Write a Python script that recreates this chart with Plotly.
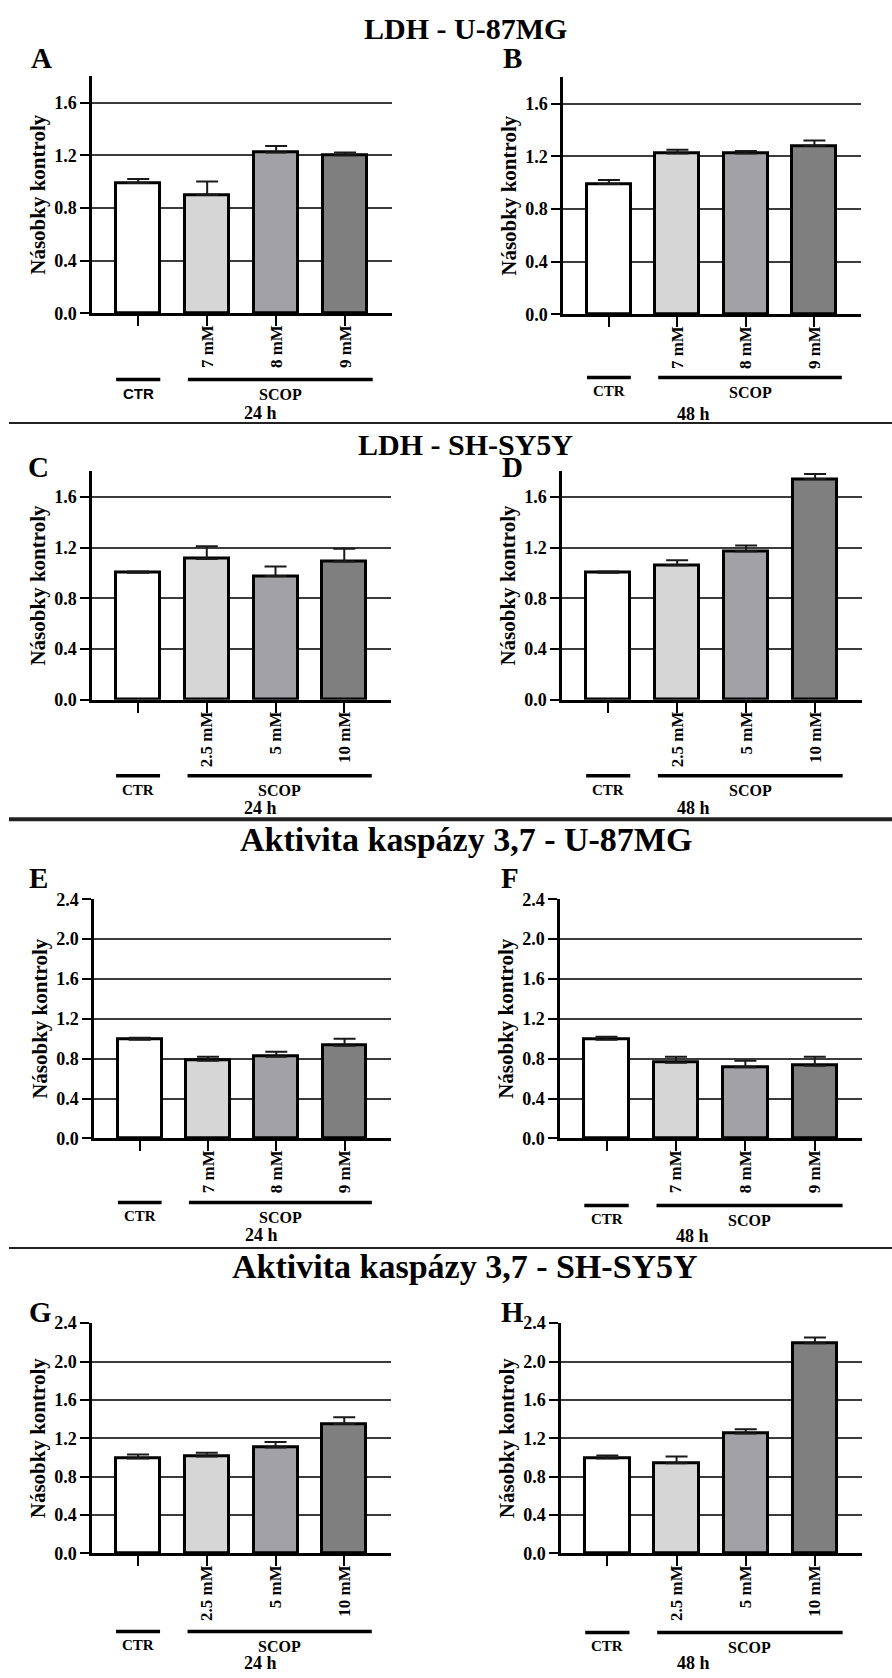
import plotly.graph_objects as go

W, H = 892, 1678

# ---------------- data ----------------
positions = [0, 1, 2, 3]
u87_doses = ["", "7 mM", "8 mM", "9 mM"]
sh_doses = ["", "2.5 mM", "5 mM", "10 mM"]
bar_fills = ["#ffffff", "#d6d6d6", "#a2a2a6", "#7f7f7f"]

ldh_u87_24h = [0.99, 0.90, 1.22, 1.20]
ldh_u87_24h_sem = [0.03, 0.10, 0.05, 0.02]
ldh_u87_48h = [0.99, 1.22, 1.22, 1.28]
ldh_u87_48h_sem = [0.03, 0.03, 0.02, 0.04]
ldh_sh_24h = [1.00, 1.11, 0.975, 1.09]
ldh_sh_24h_sem = [0.01, 0.10, 0.075, 0.10]
ldh_sh_48h = [1.00, 1.06, 1.17, 1.74]
ldh_sh_48h_sem = [0.01, 0.04, 0.045, 0.04]
casp_u87_24h = [0.99, 0.78, 0.82, 0.93]
casp_u87_24h_sem = [0.02, 0.04, 0.05, 0.07]
casp_u87_48h = [0.99, 0.76, 0.715, 0.73]
casp_u87_48h_sem = [0.03, 0.06, 0.065, 0.09]
casp_sh_24h = [0.99, 1.01, 1.105, 1.35]
casp_sh_24h_sem = [0.04, 0.04, 0.055, 0.07]
casp_sh_48h = [0.99, 0.94, 1.25, 2.19]
casp_sh_48h_sem = [0.03, 0.07, 0.045, 0.06]

ldh_ticks = [0.0, 0.4, 0.8, 1.2, 1.6]
casp_ticks = [0.0, 0.4, 0.8, 1.2, 1.6, 2.0, 2.4]

section_titles = ["LDH - U-87MG", "LDH - SH-SY5Y",
                  "Aktivita kaspázy 3,7 - U-87MG", "Aktivita kaspázy 3,7 - SH-SY5Y"]
y_title = "Násobky kontroly"
group_ctr = "CTR"
group_scop = "SCOP"

# ---------------- layout constants ----------------
SERIF = "Liberation Serif"

panels = [
    dict(letter="A", labels=u87_doses, mean=ldh_u87_24h, sem=ldh_u87_24h_sem, time="24 h", ymax=1.8,
         ticks=ldh_ticks, box=(92, 392, 67, 307), letter_xy=(41, 49), br=67, time_y=408,
         ctr_font="Liberation Sans"),
    dict(letter="B", labels=u87_doses, mean=ldh_u87_48h, sem=ldh_u87_48h_sem, time="48 h", ymax=1.8,
         ticks=ldh_ticks, box=(563, 861, 68, 308), letter_xy=(512, 49), br=64, time_y=409, ctr_font=SERIF),
    dict(letter="C", labels=sh_doses, mean=ldh_sh_24h, sem=ldh_sh_24h_sem, time="24 h", ymax=1.8,
         ticks=ldh_ticks, box=(92, 391, 467, 698), letter_xy=(38, 463), br=77, time_y=808, ctr_font=SERIF),
    dict(letter="D", labels=sh_doses, mean=ldh_sh_48h, sem=ldh_sh_48h_sem, time="48 h", ymax=1.8,
         ticks=ldh_ticks, box=(562, 862, 467, 698), letter_xy=(512, 463), br=77, time_y=808, ctr_font=SERIF),
    dict(letter="E", labels=u87_doses, mean=casp_u87_24h, sem=casp_u87_24h_sem, time="24 h", ymax=2.4,
         ticks=casp_ticks, box=(94, 391, 900, 1142), letter_xy=(38, 878), br=65, time_y=1240, ctr_font=SERIF),
    dict(letter="F", labels=u87_doses, mean=casp_u87_48h, sem=casp_u87_48h_sem, time="48 h", ymax=2.4,
         ticks=casp_ticks, box=(560, 862, 900, 1142), letter_xy=(510, 878), br=68, time_y=1241, ctr_font=SERIF),
    dict(letter="G", labels=sh_doses, mean=casp_sh_24h, sem=casp_sh_24h_sem, time="24 h", ymax=2.4,
         ticks=casp_ticks, box=(92, 391, 1329, 1562), letter_xy=(40, 1318), br=79, time_y=1673, ctr_font=SERIF),
    dict(letter="H", labels=sh_doses, mean=casp_sh_48h, sem=casp_sh_48h_sem, time="48 h", ymax=2.4,
         ticks=casp_ticks, box=(561, 862, 1329, 1562), letter_xy=(512, 1318), br=80, time_y=1673, ctr_font=SERIF),
]

XR = [-0.67, 3.68]
CTR_SPAN = (-0.32, 0.32)
SCOP_SPAN = (0.72, 3.40)


def px(x):
    return x / W


def py(y):
    return 1 - y / H


def b(s):
    return "<b>%s</b>" % s if s else ""


fig = go.Figure()
shapes = []
annotations = []
layout_axes = {}

for i, p in enumerate(panels):
    n = "" if i == 0 else str(i + 1)
    xa, ya = "x" + n, "y" + n
    x0, x1, y0, y1 = p["box"]
    fig.add_trace(go.Bar(
        x=positions, y=p["mean"], width=0.64,
        marker=dict(color=bar_fills, line=dict(color="black", width=3)),
        error_y=dict(type="data", array=p["sem"], arrayminus=[0] * 4, symmetric=False,
                     color="#1a1a1a", thickness=2, width=11),
        xaxis=xa, yaxis=ya, showlegend=False, hoverinfo="skip",
    ))
    layout_axes["xaxis" + n] = dict(
        domain=[px(x0), px(x1)], anchor=ya, range=XR, tickmode="array",
        tickvals=positions, ticktext=[b(s) for s in p["labels"]], tickangle=-90,
        ticks="outside", ticklen=10, tickwidth=2, tickcolor="black", ticklabelstandoff=-8,
        showline=True, linecolor="black", linewidth=3, showgrid=False, zeroline=False,
        tickfont=dict(family=SERIF, size=17, color="black"),
        fixedrange=True,
    )
    layout_axes["yaxis" + n] = dict(
        domain=[py(y1), py(y0)], anchor=xa, range=[0, p["ymax"]], tickmode="array",
        tickvals=p["ticks"], ticktext=[b("%.1f" % v) for v in p["ticks"]],
        ticks="outside", ticklen=9, tickwidth=2, tickcolor="black",
        showline=True, linecolor="black", linewidth=2.5,
        showgrid=True, gridcolor="#3c3c3c", gridwidth=1.6, zeroline=False,
        tickfont=dict(family=SERIF, size=18, color="black"),
        fixedrange=True,
    )
    # group brackets
    by = y1 + p["br"]
    for (a, c) in (CTR_SPAN, SCOP_SPAN):
        shapes.append(dict(type="line", xref=xa, yref="paper", x0=a, x1=c,
                           y0=py(by), y1=py(by), line=dict(color="black", width=3.5)))
    annotations.append(dict(x=sum(CTR_SPAN) / 2, y=py(by + 14), xref=xa, yref="paper",
                            text=b(group_ctr), showarrow=False, yanchor="middle",
                            font=dict(family=p["ctr_font"], size=15, color="black")))
    annotations.append(dict(x=sum(SCOP_SPAN) / 2, y=py(by + 15), xref=xa, yref="paper",
                            text=b(group_scop), showarrow=False, yanchor="middle",
                            font=dict(family=SERIF, size=16, color="black")))
    annotations.append(dict(x=px((x0 + x1) / 2), y=py(p["time_y"]), xref="paper", yref="paper",
                            text=b(p["time"]), showarrow=False, yanchor="middle",
                            font=dict(family=SERIF, size=18, color="black")))
    annotations.append(dict(x=px(x0 - 54), y=py((y0 + y1) / 2), xref="paper", yref="paper",
                            text=b(y_title), textangle=-90, showarrow=False,
                            xanchor="center", yanchor="middle",
                            font=dict(family=SERIF, size=21, color="black")))
    lx, ly = p["letter_xy"]
    annotations.append(dict(x=px(lx), y=py(ly), xref="paper", yref="paper",
                            text=b(p["letter"]), showarrow=False, xanchor="center", yanchor="middle",
                            font=dict(family=SERIF, size=29, color="black")))

# section titles
title_pos = [(466, 19, 30), (466, 440, 30), (466, 839, 34), (465, 1272, 34)]
for t, (tx, ty, ts) in zip(section_titles, title_pos):
    annotations.append(dict(x=px(tx), y=py(ty), xref="paper", yref="paper", text=b(t),
                            showarrow=False, xanchor="center", yanchor="middle",
                            font=dict(family=SERIF, size=ts, color="black")))

# separators between sections
for sy, sw in ((418, 2), (819, 4), (1253, 2)):
    shapes.append(dict(type="line", xref="paper", yref="paper", x0=px(9), x1=1,
                       y0=py(sy), y1=py(sy), line=dict(color="#222222", width=sw)))

fig.update_layout(
    width=W, height=H, margin=dict(l=0, r=0, t=0, b=0),
    paper_bgcolor="white", plot_bgcolor="white",
    shapes=shapes, annotations=annotations, bargap=0,
    **layout_axes,
)

fig.write_html("out.html")
